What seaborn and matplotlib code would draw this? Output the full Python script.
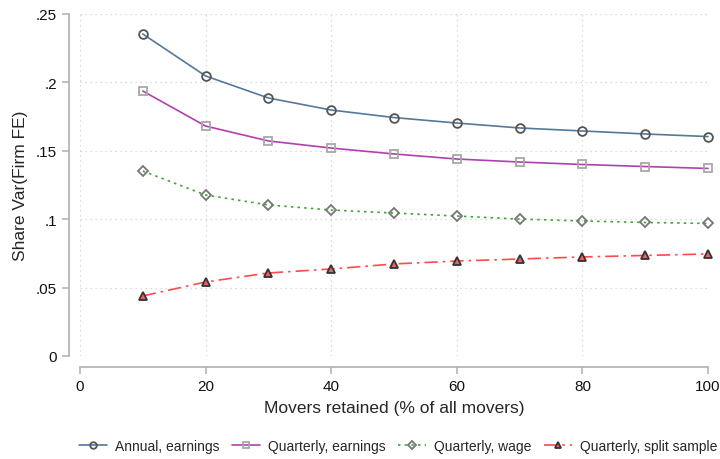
import matplotlib
matplotlib.use("Agg")
import matplotlib.pyplot as plt
import seaborn as sns
import numpy as np

# data
movers_pct = [10, 20, 30, 40, 50, 60, 70, 80, 90, 100]
annual_earnings = [0.2354, 0.2047, 0.1886, 0.1798, 0.1743, 0.1703, 0.1667, 0.1645, 0.1623, 0.1604]
quarterly_earnings = [0.1937, 0.1681, 0.1572, 0.1520, 0.1477, 0.1440, 0.1418, 0.1400, 0.1385, 0.1371]
quarterly_wage = [0.1352, 0.1177, 0.1104, 0.1067, 0.1045, 0.1023, 0.1001, 0.0987, 0.0976, 0.0969]
quarterly_split = [0.0439, 0.0541, 0.0607, 0.0636, 0.0673, 0.0694, 0.0709, 0.0724, 0.0735, 0.0746]

series_labels = ["Annual, earnings", "Quarterly, earnings", "Quarterly, wage", "Quarterly, split sample"]
x_ticks = [0, 20, 40, 60, 80, 100]
y_ticks = [0, 0.05, 0.10, 0.15, 0.20, 0.25]
y_ticklabels = ["0", ".05", ".1", ".15", ".2", ".25"]

sns.set_style("white")
plt.rcParams["font.family"] = ["Liberation Sans", "DejaVu Sans"]

fig = plt.figure(figsize=(7.2, 4.6), dpi=100)
ax = fig.add_axes([80 / 720, 1 - 357 / 460, 628 / 720, 342 / 460])

# style per series: line colour, linestyle, marker, face, edge
styles = [
    dict(color="#55799a", linestyle="-", marker="o", markerfacecolor="none", markeredgecolor="#555555"),
    dict(color="#b040b0", linestyle="-", marker="s", markerfacecolor="none", markeredgecolor="#a8a8a8"),
    dict(color="#3fa535", linestyle=(0, (1.5, 2.5)), marker="D", markerfacecolor="none", markeredgecolor="#777777"),
    dict(color="#ff4a4a", linestyle=(0, (8, 3, 1.5, 3)), marker="^", markerfacecolor="#f06060", markeredgecolor="#333333"),
]
all_series = [annual_earnings, quarterly_earnings, quarterly_wage, quarterly_split]

for vals, lab, st in zip(all_series, series_labels, styles):
    ms = 6.3 if st["marker"] != "D" else 5.3
    sns.lineplot(x=movers_pct, y=vals, ax=ax, label=lab, linewidth=1.2,
                 markersize=ms, markeredgewidth=1.3, clip_on=False, **st)

ax.set_xlim(0, 100)
ax.set_ylim(0, 0.25)
ax.set_xticks(x_ticks)
ax.set_yticks(y_ticks)
ax.set_yticklabels(y_ticklabels)

# dotted light grid like Stata
ax.grid(True, color="#d0d0d0", linestyle=(0, (1, 3)), linewidth=0.9)
for side in ["top", "right"]:
    ax.spines[side].set_visible(False)
for side in ["left", "bottom"]:
    ax.spines[side].set_position(("outward", 8))
    ax.spines[side].set_color("#b0b0b0")
    ax.spines[side].set_linewidth(1.2)
ax.tick_params(axis="both", which="major", length=5, width=1.1, color="#b0b0b0",
               labelsize=11, labelcolor="#111111", left=True, bottom=True)

ax.set_xlabel("Movers retained (% of all movers)", fontsize=12.5, labelpad=5)
ax.set_ylabel("Share Var(Firm FE)", fontsize=12.5, labelpad=6)

ax.legend(loc="center", bbox_to_anchor=(0.507, -0.263), ncol=4, frameon=False,
          fontsize=10, handlelength=2.0, columnspacing=0.9, handletextpad=0.6,
          markerscale=0.75)

fig.savefig("out.png", dpi=100)
